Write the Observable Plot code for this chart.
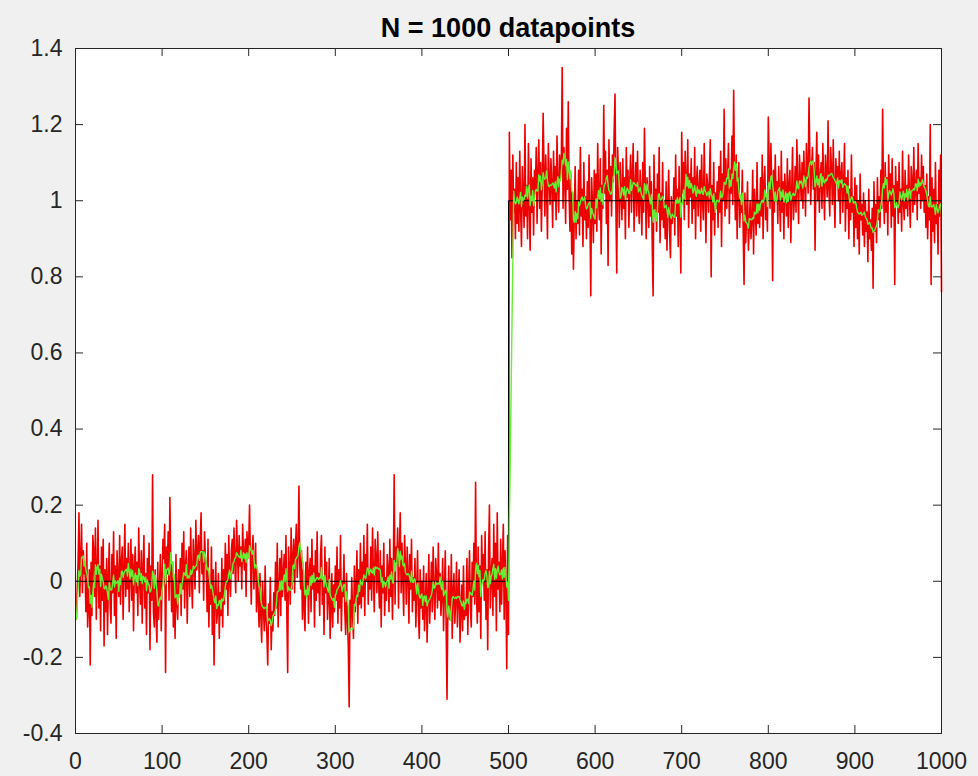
<!DOCTYPE html>
<html>
<head>
<meta charset="utf-8">
<script src="https://cdn.jsdelivr.net/npm/d3@7"></script>
<script src="https://cdn.jsdelivr.net/npm/@observablehq/plot@0.6"></script>
<style>
  html, body { margin: 0; padding: 0; background: #f0f0f0; }
  #wrap { width: 978px; height: 776px; position: relative; overflow: hidden; }
  #title { height: 36px; box-sizing: border-box; padding-top: 14px; padding-left: 75px; width: 941px;
           text-align: center; font: bold 27px "Liberation Sans", Arial, sans-serif; line-height: 28px; color: #000; }
  svg { overflow: visible; }
</style>
</head>
<body>
<div id="wrap">
  <div id="title">N = 1000 datapoints</div>
  <div id="chart"></div>
</div>
<script>
const titleText = "N = 1000 datapoints";
const xTicks = [0, 100, 200, 300, 400, 500, 600, 700, 800, 900, 1000];
const yTicks = [-0.4, -0.2, 0, 0.2, 0.4, 0.6, 0.8, 1, 1.2, 1.4];
const stepX = [1, 500, 1000];
const stepY = [0, 1, 1];
const noisy = [
-0.1,-0.02,0.05,0.18,-0.04,0.06,0.15,-0.03,0.08,0.02,
0.04,-0.08,0.1,-0.12,-0.06,0.03,-0.22,0.05,-0.09,0.12,
0.08,-0.04,0.14,-0.1,0.02,0.16,-0.07,0.04,-0.13,0.09,
-0.05,0.11,-0.17,0.03,-0.08,0.06,-0.14,0.01,0.1,-0.06,
-0.11,0.07,-0.03,0.13,-0.09,0.04,-0.15,0.08,0.0,-0.04,
0.12,-0.06,0.05,0.09,-0.1,0.03,0.15,-0.04,0.06,-0.02,
0.1,-0.08,0.02,0.11,-0.05,0.07,-0.13,0.04,0.09,-0.03,
0.05,-0.09,0.14,0.0,-0.06,0.08,-0.11,0.03,0.12,-0.07,
0.02,-0.14,0.06,-0.03,0.1,-0.18,0.04,-0.05,0.28,-0.08,
-0.12,0.03,-0.09,-0.16,0.05,-0.1,-0.02,0.07,-0.13,0.01,
0.11,0.06,0.15,-0.24,0.09,0.02,0.13,-0.05,0.22,0.04,
-0.08,0.05,-0.12,0.0,-0.15,0.07,-0.06,-0.1,0.03,-0.04,
0.06,-0.09,0.1,-0.02,0.13,-0.07,0.04,0.08,-0.11,0.02,
0.09,-0.04,0.14,0.01,-0.07,0.11,0.05,-0.02,0.16,0.03,
0.07,0.12,-0.03,0.1,0.18,0.02,0.08,-0.05,0.13,0.06,
0.04,-0.08,0.11,-0.12,0.0,-0.06,0.09,-0.14,0.03,-0.22,
-0.04,0.05,-0.11,-0.08,0.02,-0.15,-0.03,-0.09,0.06,-0.12,
0.03,-0.06,0.1,-0.02,0.07,-0.09,0.12,0.0,-0.04,0.08,
0.11,0.02,0.14,0.05,-0.03,0.16,0.08,0.0,0.12,0.04,
0.09,-0.02,0.15,0.07,0.03,0.11,-0.04,0.13,0.06,0.1,
0.2,0.05,-0.06,0.08,0.12,-0.02,0.04,0.1,-0.08,0.03,
-0.05,-0.12,0.02,-0.09,-0.16,0.0,-0.07,-0.13,0.04,-0.1,
-0.14,-0.22,-0.06,-0.11,0.01,-0.18,-0.08,-0.13,-0.03,-0.09,
0.05,-0.07,0.1,-0.12,-0.02,0.06,-0.09,0.08,-0.04,0.02,
0.07,-0.05,0.12,-0.08,-0.24,0.09,0.03,-0.06,0.14,-0.02,
0.06,0.11,-0.03,0.09,0.15,0.01,0.07,0.25,0.04,-0.02,
0.08,-0.1,0.03,-0.07,-0.13,0.05,-0.04,0.09,-0.11,0.02,
0.06,-0.08,0.11,-0.02,0.04,-0.12,0.08,-0.05,0.13,-0.03,
0.02,-0.09,0.07,0.12,-0.06,0.01,-0.14,0.09,-0.03,0.05,
-0.1,-0.04,0.06,-0.15,-0.07,0.02,-0.12,-0.01,-0.08,0.04,
-0.05,0.09,-0.11,0.03,-0.07,0.12,-0.13,0.0,-0.04,0.07,
-0.08,-0.14,0.02,-0.1,-0.17,-0.33,-0.05,-0.12,0.01,-0.09,
-0.15,0.04,-0.08,-0.02,0.08,-0.11,0.03,-0.06,0.1,-0.07,
0.05,-0.04,0.12,-0.09,0.07,0.0,0.15,-0.06,0.03,-0.02,
0.09,-0.05,0.14,0.02,-0.08,0.11,0.06,-0.03,0.13,0.0,
-0.07,0.08,-0.12,0.04,-0.03,0.1,-0.09,0.01,-0.05,0.07,
0.03,-0.08,0.11,-0.04,0.06,-0.1,0.02,0.28,-0.06,0.09,
0.05,0.14,-0.07,0.08,0.18,-0.03,0.1,0.0,-0.09,0.12,
0.04,-0.06,0.09,0.02,-0.11,0.07,-0.02,0.11,-0.08,0.01,
-0.05,0.06,-0.12,-0.02,0.08,-0.09,-0.15,0.03,-0.07,0.0,
-0.1,0.04,-0.13,-0.06,0.02,-0.16,-0.04,0.07,-0.11,-0.03,
0.05,-0.08,0.09,-0.03,-0.1,0.06,0.01,-0.07,0.1,-0.05,
0.02,-0.09,-0.04,0.06,-0.13,-0.02,0.08,-0.12,-0.31,-0.06,
0.04,-0.1,-0.07,0.07,-0.15,-0.03,0.02,-0.11,-0.05,0.05,
-0.12,-0.04,0.03,-0.16,-0.08,-0.01,-0.13,0.04,-0.1,-0.06,
-0.09,0.06,-0.14,-0.02,0.08,-0.07,-0.12,0.05,-0.04,0.1,
-0.06,0.26,-0.03,-0.11,0.09,-0.08,0.04,-0.15,0.12,0.0,
0.07,-0.05,0.13,-0.1,0.03,-0.18,0.08,0.2,-0.07,0.02,
0.06,-0.09,0.15,-0.04,0.1,-0.13,0.18,-0.02,0.05,-0.08,
0.11,-0.06,0.04,0.15,-0.1,0.08,-0.03,-0.23,0.12,-0.14,
1.18,0.95,1.08,0.85,1.12,0.97,1.03,0.9,1.1,0.94,
1.06,0.92,1.13,0.98,0.88,1.09,1.01,0.93,1.2,0.96,
1.04,0.9,1.15,1.0,0.87,1.11,0.97,1.06,0.91,1.08,
1.02,1.14,0.94,1.07,1.16,0.98,1.1,0.92,1.05,1.23,
1.08,0.96,1.12,1.03,0.9,1.15,1.06,0.99,1.11,1.04,
0.93,1.13,1.0,1.09,0.95,1.17,1.04,0.97,1.12,1.06,
1.1,1.35,0.98,1.14,1.05,0.94,1.19,1.03,1.26,1.01,
0.92,1.07,0.86,1.02,0.82,0.97,1.09,0.9,1.0,0.94,
1.08,0.91,1.14,0.96,1.03,0.88,1.1,0.95,1.01,0.9,
1.05,0.93,1.12,0.97,0.75,1.06,0.99,0.89,1.08,0.94,
1.07,0.92,1.15,1.0,0.95,1.11,0.86,1.04,0.98,1.25,
1.02,1.13,0.94,1.08,0.83,1.16,1.0,1.09,0.96,1.12,
1.05,1.18,1.28,0.99,0.81,1.14,1.07,0.93,1.1,1.02,
0.95,1.11,0.98,1.06,0.9,1.14,1.01,1.08,0.93,1.05,
1.12,0.97,1.07,1.15,0.92,1.03,1.1,0.96,1.13,1.0,
0.94,1.08,1.02,0.91,1.1,0.97,1.19,1.04,0.9,1.06,
1.01,0.93,1.09,0.96,1.05,0.88,0.75,1.12,0.98,1.03,
0.92,1.07,0.97,1.14,0.89,1.02,0.95,1.1,0.93,1.0,
0.9,1.05,0.87,0.99,1.08,0.92,0.85,1.01,0.94,0.97,
1.06,0.91,1.12,0.96,1.03,0.88,1.09,0.97,0.81,1.18,
1.02,1.1,0.95,1.13,1.04,0.99,1.16,0.93,1.07,1.01,
1.11,0.94,1.06,0.98,1.14,0.9,1.05,1.09,0.96,1.03,
1.08,0.92,1.12,1.0,0.95,1.15,1.02,0.89,1.07,1.04,
0.97,1.06,1.16,0.8,1.04,0.95,1.1,0.91,1.02,0.98,
1.05,0.93,1.09,0.97,1.13,0.88,1.07,1.0,1.24,0.96,
1.11,0.98,1.06,1.15,0.94,1.08,1.02,1.17,0.99,1.29,
1.06,0.95,1.12,0.9,1.04,1.1,0.93,1.0,0.97,1.08,
0.92,0.78,1.02,0.89,0.96,1.05,0.87,0.93,1.0,0.9,
0.95,1.08,0.86,1.03,0.97,0.91,1.1,0.94,1.0,0.93,
1.06,0.96,1.12,0.9,1.04,1.09,0.95,1.01,0.92,1.22,
1.1,0.98,1.15,1.03,0.79,1.08,0.97,1.12,1.0,1.05,
0.94,1.09,1.01,0.92,1.13,0.97,1.05,0.9,1.07,1.02,
0.96,1.11,0.93,1.04,1.08,0.89,1.02,1.14,0.95,1.0,
1.09,0.97,1.16,1.03,0.94,1.12,1.06,1.0,1.1,0.98,
1.13,1.05,0.96,1.15,1.08,1.02,1.27,1.11,0.99,1.09,
1.14,1.03,1.1,0.87,1.07,1.18,1.0,1.12,0.97,1.06,
1.1,0.98,1.15,1.04,0.95,1.12,1.07,1.01,1.21,1.03,
0.96,1.14,1.08,0.99,1.16,1.02,0.93,1.11,1.05,1.09,
1.0,1.13,0.94,1.07,1.1,0.97,1.04,1.15,0.92,1.06,
0.98,1.08,0.9,1.03,0.95,1.12,0.97,1.01,0.88,1.06,
0.93,1.04,0.9,1.0,0.86,1.07,0.95,0.99,0.91,1.02,
0.88,1.0,0.92,0.97,0.84,1.03,0.9,0.95,0.87,0.98,
0.77,1.05,0.92,0.99,0.89,1.06,0.95,1.01,0.93,1.08,
0.98,1.24,1.03,0.94,1.1,0.97,1.06,0.91,1.12,1.0,
1.07,0.93,1.11,0.96,1.04,0.78,1.09,0.99,1.05,0.94,
1.1,0.97,1.03,0.92,1.13,1.0,0.95,1.08,0.98,1.04,
0.96,1.12,1.01,0.93,1.09,1.05,0.97,1.14,0.99,1.03,
1.08,0.95,1.15,1.02,1.06,0.98,1.12,1.0,1.09,0.97,
1.04,0.93,1.07,0.9,1.01,0.95,1.2,0.78,1.06,0.92,
1.03,0.89,1.1,0.94,0.99,0.86,1.08,0.96,1.12,0.76
];

const series = noisy.map((v, i) => ({x: i + 1, y: v}));
const step = stepX.map((x, i) => ({x, y: stepY[i]}));

const W = 978, H = 740;
const marginTop = 12, marginBottom = H - (733 - 36), marginLeft = 75, marginRight = 978 - 941;
const innerH = H - marginTop - marginBottom;
const innerW = W - marginLeft - marginRight;
const tickLen = 8;
const axisColor = "#262626";
const font = "23px";

const chart = Plot.plot({
  width: W,
  height: H,
  marginTop, marginBottom, marginLeft, marginRight,
  style: {background: "transparent", fontFamily: "'Liberation Sans', Arial, sans-serif", fontSize: font, color: axisColor, overflow: "visible"},
  x: {domain: [0, 1000]},
  y: {domain: [-0.4, 1.4]},
  marks: [
    Plot.frame({fill: "white", stroke: null}),
    Plot.lineY(series, {x: "x", y: "y", stroke: "#ee0000", strokeWidth: 1.6}),
    Plot.line(step, {x: "x", y: "y", curve: "step-after", stroke: "#000000", strokeWidth: 1}),
    Plot.lineY(series, Plot.windowY({k: 6, anchor: "end", reduce: "mean"}, {x: "x", y: "y", stroke: "#66ee33", strokeWidth: 1.4})),
    // inward tick marks on all four sides (MATLAB box style)
    Plot.ruleX(xTicks, {x: d => d, insetTop: innerH - tickLen, stroke: axisColor}),
    Plot.ruleX(xTicks, {x: d => d, insetBottom: innerH - tickLen, stroke: axisColor}),
    Plot.ruleY(yTicks, {y: d => d, insetRight: innerW - tickLen, stroke: axisColor}),
    Plot.ruleY(yTicks, {y: d => d, insetLeft: innerW - tickLen, stroke: axisColor}),
    Plot.frame({stroke: axisColor, strokeWidth: 1}),
    Plot.axisX({ticks: xTicks, tickSize: 0, tickPadding: 19, tickFormat: d => String(d), label: null, fontSize: font}),
    Plot.axisY({ticks: yTicks, tickSize: 0, tickPadding: 13, tickFormat: d => String(d), label: null, fontSize: font})
  ]
});
document.getElementById("chart").appendChild(chart);
</script>
</body>
</html>
